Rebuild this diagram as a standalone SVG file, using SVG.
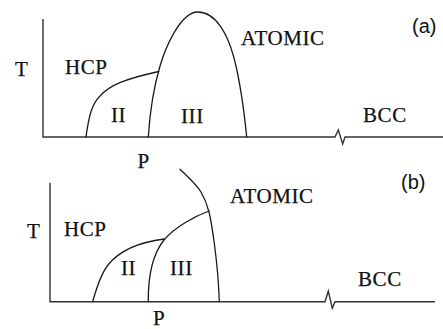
<svg xmlns="http://www.w3.org/2000/svg" width="443" height="329" viewBox="0 0 443 329">
<style>
.ln{fill:none;stroke:#1a1a1a;stroke-width:1.3;stroke-linejoin:round;stroke-linecap:round}
.ax{fill:none;stroke:#333;stroke-width:1.4;stroke-linejoin:miter}
.t{font-family:"Liberation Serif","Times New Roman",serif;font-size:21px;fill:#111;stroke:#111;stroke-width:0.25;letter-spacing:0.6px}
.lab{font-family:"Liberation Sans",Arial,sans-serif;font-size:20px;fill:#111}
</style>
<rect width="443" height="329" fill="#fff"/>
<g id="panel-a">
<path class="ax" d="M43,19 V137 H335 L338.3,130 L342.7,144 L345,137 H443"/>
<path class="ln" d="M148.3,137 C150,110 155,83 160,66 C165,49 180,12 198,12 C216,12 228,35 234,58 C240,81 244,110 246.7,137"/>
<path class="ln" d="M86,137 C89,115 92,104 100,96 C110,85 125,79 158.8,71.5"/>
<text class="t" x="15" y="76">T</text>
<text class="t" x="65" y="74">HCP</text>
<text class="t" x="241" y="45">ATOMIC</text>
<text class="t" x="111" y="122">II</text>
<text class="t" x="181" y="123">III</text>
<text class="t" x="363" y="122">BCC</text>
<text class="t" x="137.5" y="168">P</text>
<text class="lab" x="412" y="33">(a)</text>
</g>
<g id="panel-b">
<path class="ax" d="M50,182.7 V301.7 H325 L328.3,291 L332.3,308.3 L335,301.7 H435"/>
<path class="ln" d="M180,169.3 C188,177 196,184 201,192 C205,199 207,204 209,212 C211,220 218,260 219.3,301.7"/>
<path class="ln" d="M148.3,301.7 C148,275 152,255 164,240 C175,227 195,216 209,211"/>
<path class="ln" d="M92.7,301.7 C96,290 100,275 108,265 C120,250 140,242 164.3,239"/>
<text class="t" x="27" y="238">T</text>
<text class="t" x="64" y="236">HCP</text>
<text class="t" x="230" y="203">ATOMIC</text>
<text class="t" x="121" y="275">II</text>
<text class="t" x="170" y="275">III</text>
<text class="t" x="358" y="286">BCC</text>
<text class="t" x="153" y="324.5">P</text>
<text class="lab" x="401" y="189">(b)</text>
</g>
</svg>
